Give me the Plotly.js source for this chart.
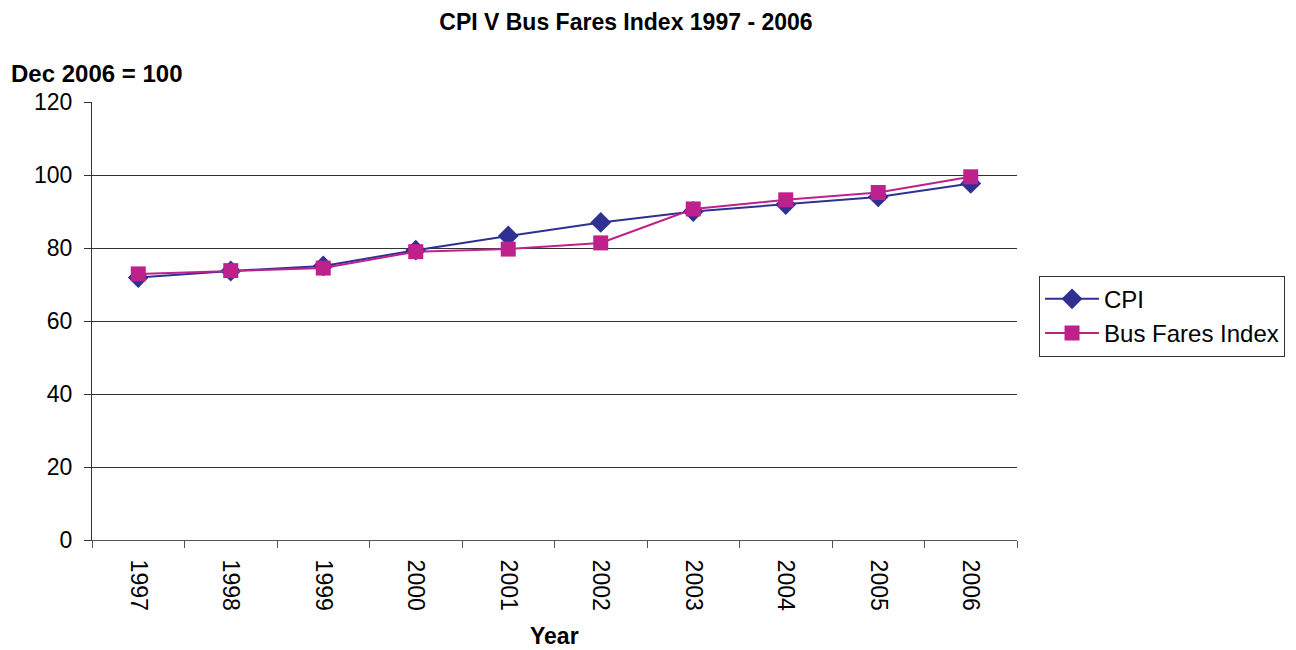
<!DOCTYPE html>
<html><head><meta charset="utf-8">
<script src="https://cdn.plot.ly/plotly-3.0.1.min.js"></script>
<style>body{margin:0;padding:0;background:#fff}#chart{width:1296px;height:650px}</style>
</head><body><div id="chart"></div>
<script>
const years = ['1997','1998','1999','2000','2001','2002','2003','2004','2005','2006'];
const cpi = [71.9, 73.7, 75.1, 79.4, 83.3, 87.0, 90.0, 91.9, 94.0, 97.7];
const busFares = [72.9, 73.8, 74.5, 79.0, 79.7, 81.4, 90.7, 93.2, 95.2, 99.5];
const yTicks = [0, 20, 40, 60, 80, 100, 120];

const traces = [
  {x: years, y: cpi, name: 'CPI', type: 'scatter', mode: 'lines+markers',
   line: {color: '#2E3192', width: 2}, marker: {symbol: 'diamond', size: 16, color: '#2E3192'}},
  {x: years, y: busFares, name: 'Bus Fares Index', type: 'scatter', mode: 'lines+markers',
   line: {color: '#BE208C', width: 2}, marker: {symbol: 'square', size: 15, color: '#BE208C'}}
];
const layout = {
  width: 1296, height: 650,
  margin: {l: 92, r: 278, t: 102, b: 110},
  paper_bgcolor: '#fff', plot_bgcolor: '#fff',
  font: {family: 'Liberation Sans, Arial, sans-serif', color: '#000', size: 22},
  title: {text: '<b>CPI V Bus Fares Index 1997 - 2006</b>', x: 0.483, xanchor: 'center', y: 0.967, yanchor: 'middle',
          font: {size: 23, color: '#000'}},
  xaxis: {type: 'category', range: [-0.5, 9.5], tickangle: 90, tickson: 'boundaries',
          ticks: 'outside', ticklen: 7, tickcolor: '#555', showline: true, linecolor: '#555', linewidth: 1,
          showgrid: false, zeroline: false, tickfont: {size: 23}, ticklabelstandoff: 14},
  yaxis: {range: [0, 120], tickvals: yTicks, ticks: 'outside', ticklen: 7, tickcolor: '#333',
          showline: true, linecolor: '#333', linewidth: 1, showgrid: true, gridcolor: '#333', gridwidth: 1,
          zeroline: false, tickfont: {size: 23}, ticklabelstandoff: 7},
  legend: {x: 1.0227, xanchor: 'left', y: 0.511, yanchor: 'middle', bordercolor: '#333', borderwidth: 1,
           font: {size: 24}, tracegroupgap: 0, bgcolor: '#fff', itemwidth: 54},
  showlegend: true,
  annotations: [
    {text: '<b>Dec 2006 = 100</b>', xref: 'paper', yref: 'paper', x: -0.090, y: 1.064,
     xanchor: 'left', yanchor: 'middle', showarrow: false, font: {size: 24}},
    {text: '<b>Year</b>', xref: 'paper', yref: 'paper', x: 0.5, y: -0.219,
     xanchor: 'center', yanchor: 'middle', showarrow: false, font: {size: 23}}
  ]
};
Plotly.newPlot('chart', traces, layout, {displayModeBar: false});
</script></body></html>
